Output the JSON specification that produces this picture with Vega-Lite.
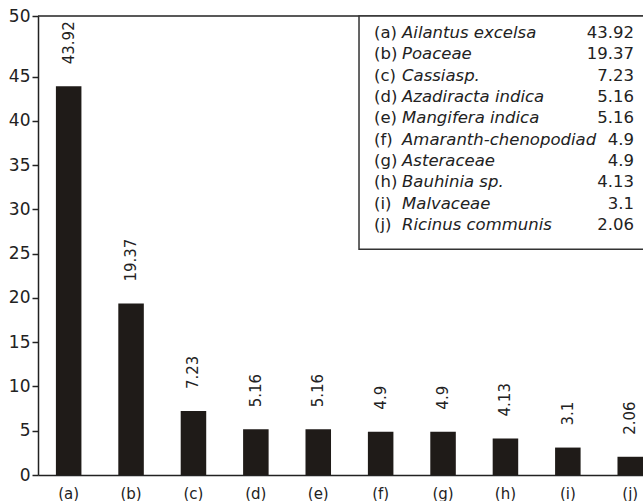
{
  "$schema": "https://vega.github.io/schema/vega-lite/v6.json",
  "width": 605,
  "height": 459,
  "autosize": {"type": "none"},
  "padding": {"left": 38, "top": 16, "right": 0, "bottom": 26},
  "background": "white",
  "config": {"view": {"stroke": null}, "font": "DejaVu Sans"},
  "datasets": {
    "pollen": [
      {"letter": "(a)", "name": "Ailantus excelsa", "value": 43.92},
      {"letter": "(b)", "name": "Poaceae", "value": 19.37},
      {"letter": "(c)", "name": "Cassiasp.", "value": 7.23},
      {"letter": "(d)", "name": "Azadiracta indica", "value": 5.16},
      {"letter": "(e)", "name": "Mangifera indica", "value": 5.16},
      {"letter": "(f)", "name": "Amaranth-chenopodiad", "value": 4.9},
      {"letter": "(g)", "name": "Asteraceae", "value": 4.9},
      {"letter": "(h)", "name": "Bauhinia sp.", "value": 4.13},
      {"letter": "(i)", "name": "Malvaceae", "value": 3.1},
      {"letter": "(j)", "name": "Ricinus communis", "value": 2.06}
    ]
  },
  "layer": [
    {
      "data": {"name": "pollen"},
      "layer": [
        {
          "mark": {"type": "bar", "color": "#1f1b18"},
          "encoding": {
            "x": {
              "field": "letter", "type": "nominal", "sort": null,
              "scale": {"paddingInner": 0.591, "paddingOuter": 0.1435, "align": 1},
              "axis": {
                "title": null, "ticks": false, "tickSize": 0, "labelAngle": 0,
                "domainColor": "#222", "domainWidth": 1.5,
                "labelFont": "DejaVu Sans", "labelFontSize": 15, "labelColor": "#222",
                "labelPadding": 11
              }
            },
            "y": {
              "field": "value", "type": "quantitative",
              "scale": {"domain": [0, 45, 50], "range": [459, 60.7, 0], "nice": false},
              "axis": {
                "title": null, "grid": false,
                "values": [0, 5, 10, 15, 20, 25, 30, 35, 40, 45, 50],
                "domainColor": "#222", "domainWidth": 1.5,
                "tickColor": "#222", "tickSize": 6, "tickWidth": 1.5,
                "labelFont": "DejaVu Sans", "labelFontSize": 17, "labelColor": "#222",
                "labelPadding": 2, "labelOverlap": false
              }
            }
          }
        },
        {
          "mark": {"type": "text", "angle": 270, "align": "left", "baseline": "middle", "dx": 22, "fontSize": 15, "font": "DejaVu Sans", "color": "#222"},
          "encoding": {
            "x": {"field": "letter", "type": "nominal", "sort": null},
            "y": {"field": "value", "type": "quantitative"},
            "text": {"field": "value", "type": "quantitative", "format": ".2~f"}
          }
        },
        {
          "data": {"values": [{}]},
          "mark": {"type": "rule", "color": "#222", "strokeWidth": 1.5},
          "encoding": {"y": {"datum": 50}}
        }
      ]
    },
    {
      "data": {"values": [{}]},
      "mark": {"type": "rect", "fill": "white", "stroke": "#333", "strokeWidth": 1.5},
      "encoding": {
        "x": {"datum": 53.06, "type": "quantitative", "scale": {"domain": [0, 100], "nice": false, "zero": false}, "axis": null},
        "x2": {"datum": 102},
        "y": {"datum": 100, "type": "quantitative", "scale": {"domain": [0, 100], "nice": false, "zero": false}, "axis": null},
        "y2": {"datum": 49.2}
      }
    },
    {
      "data": {"name": "pollen"},
      "encoding": {
        "y": {"field": "letter", "type": "ordinal", "sort": null, "scale": {"type": "point", "range": [17, 209], "padding": 0}, "axis": null}
      },
      "layer": [
        {
          "mark": {"type": "text", "align": "left", "baseline": "middle", "fontSize": 16.5, "font": "DejaVu Sans", "color": "#222"},
          "encoding": {
            "x": {"datum": 55.54, "type": "quantitative", "scale": {"domain": [0, 100], "nice": false, "zero": false}, "axis": null},
            "text": {"field": "letter"}
          }
        },
        {
          "mark": {"type": "text", "align": "left", "baseline": "middle", "fontSize": 16.5, "font": "DejaVu Sans", "fontStyle": "italic", "color": "#222"},
          "encoding": {
            "x": {"datum": 60.17, "type": "quantitative"},
            "text": {"field": "name"}
          }
        },
        {
          "mark": {"type": "text", "align": "right", "baseline": "middle", "fontSize": 16.5, "font": "DejaVu Sans", "color": "#222"},
          "encoding": {
            "x": {"datum": 98.51, "type": "quantitative"},
            "text": {"field": "value", "type": "quantitative", "format": ".2~f"}
          }
        }
      ]
    }
  ],
  "resolve": {"scale": {"x": "independent", "y": "independent"}}
}
